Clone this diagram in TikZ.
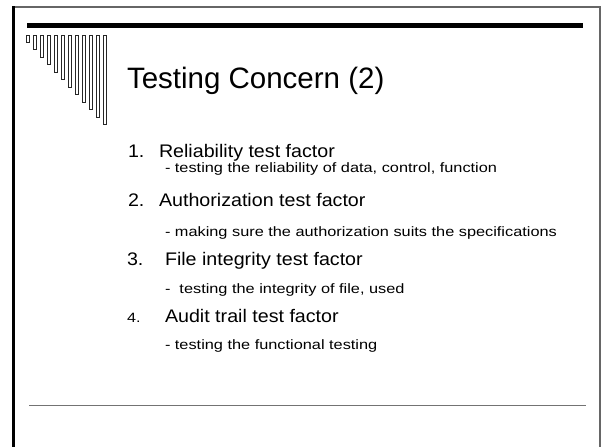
\documentclass[tikz,border=0pt]{standalone}
\usepackage{fontspec}
\usepackage{graphicx}
\setmainfont{Liberation Sans}
% text widened to the proportions of the slide
\newcommand{\headwide}[1]{\scalebox{1.08}[1]{#1}}
\newcommand{\subwide}[1]{\scalebox{1.2}[1]{#1}}
\begin{document}
\begin{tikzpicture}[x=1pt,y=-1pt,
  txt/.style={anchor=base west,inner sep=0pt,outer sep=0pt},
  titletxt/.style={txt,font=\fontsize{29.5}{30}\selectfont},
  headtxt/.style={txt,font=\fontsize{18.2}{20}\selectfont},
  numtxt/.style={txt,font=\fontsize{18.2}{20}\selectfont},
  smallnum/.style={txt,font=\fontsize{13.5}{16}\selectfont},
  subtxt/.style={txt,font=\fontsize{13.6}{16}\selectfont},
  bar/.style={draw=black!85,line width=0.6pt,fill=white}]
\useasboundingbox (0,0) rectangle (602,447);
\fill[white] (0,0) rectangle (602,447);

% slide frame
\draw[black!60,line width=2pt] (12,7) -- (600,7) -- (600,447);
\draw[black,line width=3pt] (13.5,6) -- (13.5,447);

% heavy rule under the top edge
\fill[black] (27,23) rectangle (583,28);

% row of hanging bars, growing in length
\foreach \i in {0,...,11}
  \draw[bar] ({26+7*\i},35.5) rectangle ({29.5+7*\i},{42+7.5*\i});

% footer rule
\draw[black!55,line width=1.8pt] (29,405.5) -- (586,405.5);

% title
\node[titletxt] (title) at (127,88) {Testing Concern (2)};

% numbered items
\node[numtxt]  (n1) at (128,157) {\headwide{1.}};
\node[headtxt] (h1) at (159,157) {\headwide{Reliability test factor}};
\node[subtxt]  (s1) at (165,172) {\subwide{- testing the reliability of data, control, function}};

\node[numtxt]  (n2) at (128,206) {\headwide{2.}};
\node[headtxt] (h2) at (159,206) {\headwide{Authorization test factor}};
\node[subtxt]  (s2) at (165,236) {\subwide{- making sure the authorization suits the specifications}};

\node[numtxt]  (n3) at (127,265) {\headwide{3.}};
\node[headtxt] (h3) at (165,265) {\headwide{File integrity test factor}};
\node[subtxt]  (s3) at (165,293) {\subwide{-\ \ testing the integrity of file, used}};

\node[smallnum](n4) at (127,322) {\subwide{4.}};
\node[headtxt] (h4) at (165,322) {\headwide{Audit trail test factor}};
\node[subtxt]  (s4) at (165,349) {\subwide{- testing the functional testing}};
\end{tikzpicture}
\end{document}
